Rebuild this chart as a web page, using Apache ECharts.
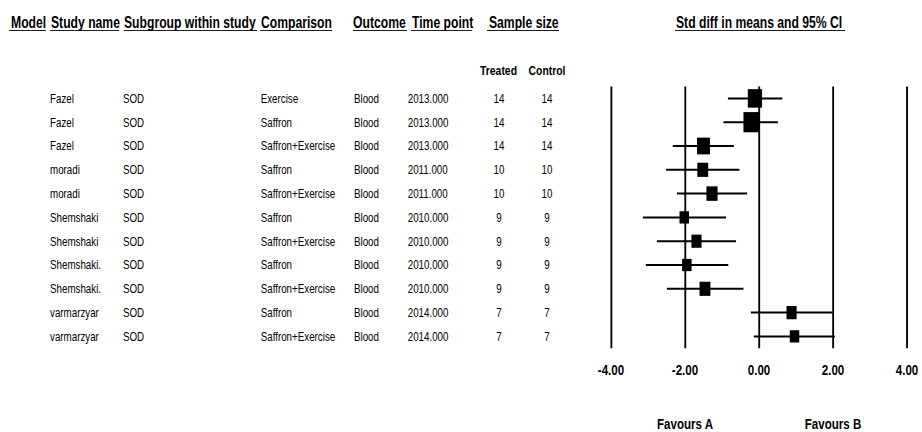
<!DOCTYPE html>
<html>
<head>
<meta charset="utf-8">
<script src="https://cdn.jsdelivr.net/npm/echarts@6/dist/echarts.min.js"></script>
<style>
html,body{margin:0;padding:0;background:#fff;overflow:hidden;width:922px;height:432px}
#c{height:432px;transform-origin:0 0}
</style>
</head>
<body>
<div id="c"></div>
<script>
// ---- data ----
const studyNames = ['Fazel','Fazel','Fazel','moradi','moradi','Shemshaki','Shemshaki','Shemshaki.','Shemshaki.','varmarzyar','varmarzyar'];
const subgroups = ['SOD','SOD','SOD','SOD','SOD','SOD','SOD','SOD','SOD','SOD','SOD'];
const comparisons = ['Exercise','Saffron','Saffron+Exercise','Saffron','Saffron+Exercise','Saffron','Saffron+Exercise','Saffron','Saffron+Exercise','Saffron','Saffron+Exercise'];
const outcomes = ['Blood','Blood','Blood','Blood','Blood','Blood','Blood','Blood','Blood','Blood','Blood'];
const timePoints = ['2013.000','2013.000','2013.000','2011.000','2011.000','2010.000','2010.000','2010.000','2010.000','2014.000','2014.000'];
const treated = [14,14,14,10,10,9,9,9,9,7,7];
const control = [14,14,14,10,10,9,9,9,9,7,7];
const smd   = [-0.11,-0.21,-1.50,-1.52,-1.27,-2.02,-1.69,-1.95,-1.46,0.88,0.96];
const lower = [-0.84,-0.96,-2.33,-2.51,-2.22,-3.14,-2.76,-3.06,-2.49,-0.22,-0.14];
const upper = [0.63,0.51,-0.68,-0.53,-0.32,-0.89,-0.62,-0.83,-0.42,1.99,2.05];
const relWeight = [14.0,16.7,11.5,8.2,8.6,6.2,7.1,6.2,8.2,7.1,6.2];
const xTicks = [-4,-2,0,2,4];
const favourLabels = {'-2':'Favours A','2':'Favours B'};
const headers = ['Model','Study name','Subgroup within study','Comparison','Outcome','Time point','Sample size','Std diff in means and 95% CI'];
const subHeaders = ['Treated','Control'];

// ---- layout (reference pixels; the page is drawn wide and condensed horizontally by S) ----
const S = 0.77;
const W = 922 / S;
const dom = document.getElementById('c');
dom.style.width = W + 'px';
dom.style.transform = 'scaleX(' + S + ')';
const FONT = "'Liberation Sans', Arial, sans-serif";
const X = v => v / S;
const headerPos = [[11,9,46],[51,50,119],[124,124,257],[261,260,332],[353,353,407],[412,411,472],[489,487,559],[676,675,845]];
const gridTop = 86.5, gridBottom = 348.3, gridLeft = 611, gridRight = 907;
const colW = {n:73, s:137.7, c:93.3, o:53.7, t:70, tr:42.6, co:53.4};

const chart = echarts.init(dom, null, {renderer:'svg', width:W, height:432});
const graphics = [];
headers.forEach((h, i) => {
  const p = headerPos[i];
  graphics.push({type:'text', x:X(p[0]), y:22, style:{text:h, font:"bold 15.8px " + FONT, fill:'#000', verticalAlign:'middle'}});
  graphics.push({type:'line', shape:{x1:X(p[1]), y1:30.5, x2:X(p[2]), y2:30.5}, style:{stroke:'#000', lineWidth:1}});
});
graphics.push({type:'text', x:X(498.5), y:71, style:{text:subHeaders[0], font:"bold 13.5px " + FONT, fill:'#000', align:'center', verticalAlign:'middle'}});
graphics.push({type:'text', x:X(547), y:71, style:{text:subHeaders[1], font:"bold 13.5px " + FONT, fill:'#000', align:'center', verticalAlign:'middle'}});

const rows = studyNames.map((_, i) => String(i));
const seriesData = smd.map((v, i) => [i, v, lower[i], upper[i], relWeight[i]]);
const cell = (w, extra) => Object.assign({width:X(w), fontSize:12.7, fontFamily:FONT, color:'#000'}, extra || {});

chart.setOption({
  animation: false,
  backgroundColor: '#fff',
  graphic: graphics,
  grid: {left: X(gridLeft), right: X(922 - gridRight), top: gridTop, bottom: 432 - gridBottom},
  xAxis: [{
    type:'value', min:xTicks[0], max:xTicks[xTicks.length-1], interval:2,
    axisLine:{show:false}, axisTick:{show:false},
    splitLine:{show:true, lineStyle:{color:'#000', width:2.4}},
    axisLabel:{color:'#000', fontWeight:'bold', fontSize:15, fontFamily:FONT, margin:14.5, formatter:v => v.toFixed(2)}
  },{
    type:'value', position:'bottom', offset:0, min:xTicks[0], max:xTicks[xTicks.length-1], interval:2,
    axisLine:{show:false}, axisTick:{show:false}, splitLine:{show:false},
    axisLabel:{color:'#000', fontWeight:'bold', fontSize:15, fontFamily:FONT, margin:68, formatter:v => favourLabels[String(v)] || ''}
  }],
  yAxis: {
    type:'category', inverse:true, data:rows,
    axisLine:{show:false}, axisTick:{show:false}, splitLine:{show:false},
    axisLabel:{
      align:'left', margin:X(gridLeft - 50), color:'#000', fontSize:12.7, fontFamily:FONT,
      formatter:(v) => {
        const i = +v;
        return `{n|${studyNames[i]}}{s|${subgroups[i]}}{c|${comparisons[i]}}{o|${outcomes[i]}}{t|${timePoints[i]}}{tr|${treated[i]}}{co|${control[i]}}`;
      },
      rich:{
        n:cell(colW.n), s:cell(colW.s), c:cell(colW.c), o:cell(colW.o), t:cell(colW.t),
        tr:cell(colW.tr, {align:'center'}), co:cell(colW.co, {align:'center'})
      }
    }
  },
  series: [{
    type:'custom',
    data: seriesData,
    encode:{x:[1,2,3], y:0},
    renderItem:(params, api) => {
      const y = api.value(0);
      const c = api.coord([api.value(1), y]);
      const l = api.coord([api.value(2), y]);
      const h = api.coord([api.value(3), y]);
      const s = 18.5 * Math.sqrt(api.value(4) / 14);
      return {type:'group', children:[
        {type:'line', shape:{x1:l[0], y1:l[1], x2:h[0], y2:h[1]}, style:{stroke:'#000', lineWidth:2}},
        {type:'rect', shape:{x:c[0]-s/2, y:c[1]-s/2, width:s, height:s}, style:{fill:'#000'}}
      ]};
    }
  }]
});
</script>
</body>
</html>
